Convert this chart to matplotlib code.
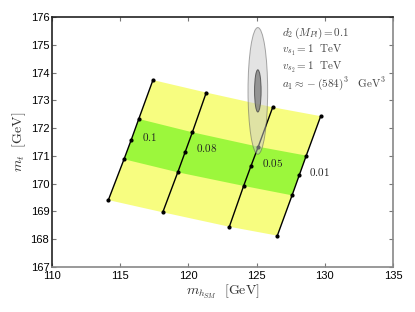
import numpy as np
import matplotlib
matplotlib.use('Agg')
import matplotlib.pyplot as plt
from matplotlib.patches import Ellipse

plt.rcParams['mathtext.fontset'] = 'cm'
plt.rcParams['font.family'] = ['Liberation Sans', 'DejaVu Sans']

# --- данные: линии d2 = const, 5 точек каждая (верх -> низ) ---
d2_labels = ['0.1', '0.08', '0.05', '0.01']
mh = [
    [117.40, 116.36, 115.81, 115.28, 114.13],
    [121.31, 120.29, 119.77, 119.22, 118.12],
    [126.18, 125.12, 124.59, 124.05, 123.00],
    [129.70, 128.64, 128.13, 127.60, 126.52],
]
mt = [
    [173.73, 172.33, 171.58, 170.88, 169.41],
    [173.28, 171.85, 171.15, 170.41, 168.97],
    [172.75, 171.33, 170.64, 169.92, 168.45],
    [172.43, 171.01, 170.31, 169.58, 168.13],
]
# позиции подписей линий
label_x = [116.36, 120.29, 125.12, 128.62]
label_y = [171.69, 171.27, 170.73, 170.41]

# эксперимент: m_h, m_t и ошибки
mh_exp, mh_err = 125.09, 0.24
mt_exp, mt_err = 173.34, 0.76

info_lines = [r'$d_2\,(M_{Pl}) = 0.1$',
              r'$v_{s_1} = 1\ \ \mathrm{TeV}$',
              r'$v_{s_2} = 1\ \ \mathrm{TeV}$',
              r'$a_1 \approx -(584)^3\ \ \ \mathrm{GeV}^3$']

mh = np.array(mh)
mt = np.array(mt)

fig = plt.figure(figsize=(4.15, 3.12), dpi=100)
ax = fig.add_axes([0.1253, 0.1442, 0.8217, 0.8013])

yellow = '#f7fd80'
green = '#9cf73c'

# полосы между соседними линиями
for i in range(len(mh) - 1):
    # внешняя (жёлтая): точки 0..4
    px = np.concatenate([mh[i], mh[i + 1][::-1]])
    py = np.concatenate([mt[i], mt[i + 1][::-1]])
    ax.fill(px, py, color=yellow, lw=0, zorder=1)
    # внутренняя (зелёная): точки 1..3
    px = np.concatenate([mh[i][1:4], mh[i + 1][1:4][::-1]])
    py = np.concatenate([mt[i][1:4], mt[i + 1][1:4][::-1]])
    ax.fill(px, py, color=green, lw=0, zorder=2)

for i in range(len(mh)):
    ax.plot(mh[i], mt[i], color='black', lw=1.0, marker='o', ms=2.0, zorder=3)
    ax.text(label_x[i] + 0.25, label_y[i], '$' + d2_labels[i] + '$',
            fontsize=8, color='#222222', va='center', ha='left', zorder=5)

# эллипсы 3 sigma и 1 sigma
e3 = Ellipse((mh_exp, mt_exp), 2 * 3 * mh_err, 2 * 3 * mt_err,
             facecolor='#c8c8c8', edgecolor='#555555', lw=0.7, alpha=0.5, zorder=4)
e1 = Ellipse((mh_exp, mt_exp), 2 * mh_err, 2 * mt_err,
             facecolor='#808080', edgecolor='#444444', lw=0.7, alpha=0.8, zorder=4)
ax.add_patch(e3)
ax.add_patch(e1)

for k, s in enumerate(info_lines):
    ax.text(126.85, 175.4 - k * 0.6, s, fontsize=8, color='#444444',
            ha='left', va='center', zorder=5)

ax.set_xlim(110, 135)
ax.set_ylim(167, 176)
ax.set_xticks(np.arange(110, 136, 5))
ax.set_yticks(np.arange(167, 177, 1))
ax.tick_params(direction='in', top=True, right=True, length=3, labelsize=8,
               color='#777777')
ax.tick_params(axis='x', pad=3)
ax.tick_params(axis='y', pad=2)

for side in ['left', 'top']:
    ax.spines[side].set_color('#222222')
for side in ['right', 'bottom']:
    ax.spines[side].set_color('#888888')
for sp in ax.spines.values():
    sp.set_linewidth(1.2)

ax.set_xlabel(r'$m_{h_{SM}}\ \ [\mathrm{GeV}]$', fontsize=10, color='#333333', labelpad=1)
ax.set_ylabel(r'$m_t\ \ [\mathrm{GeV}]$', fontsize=10, color='#333333', labelpad=2)

fig.savefig('out.png', dpi=100)
